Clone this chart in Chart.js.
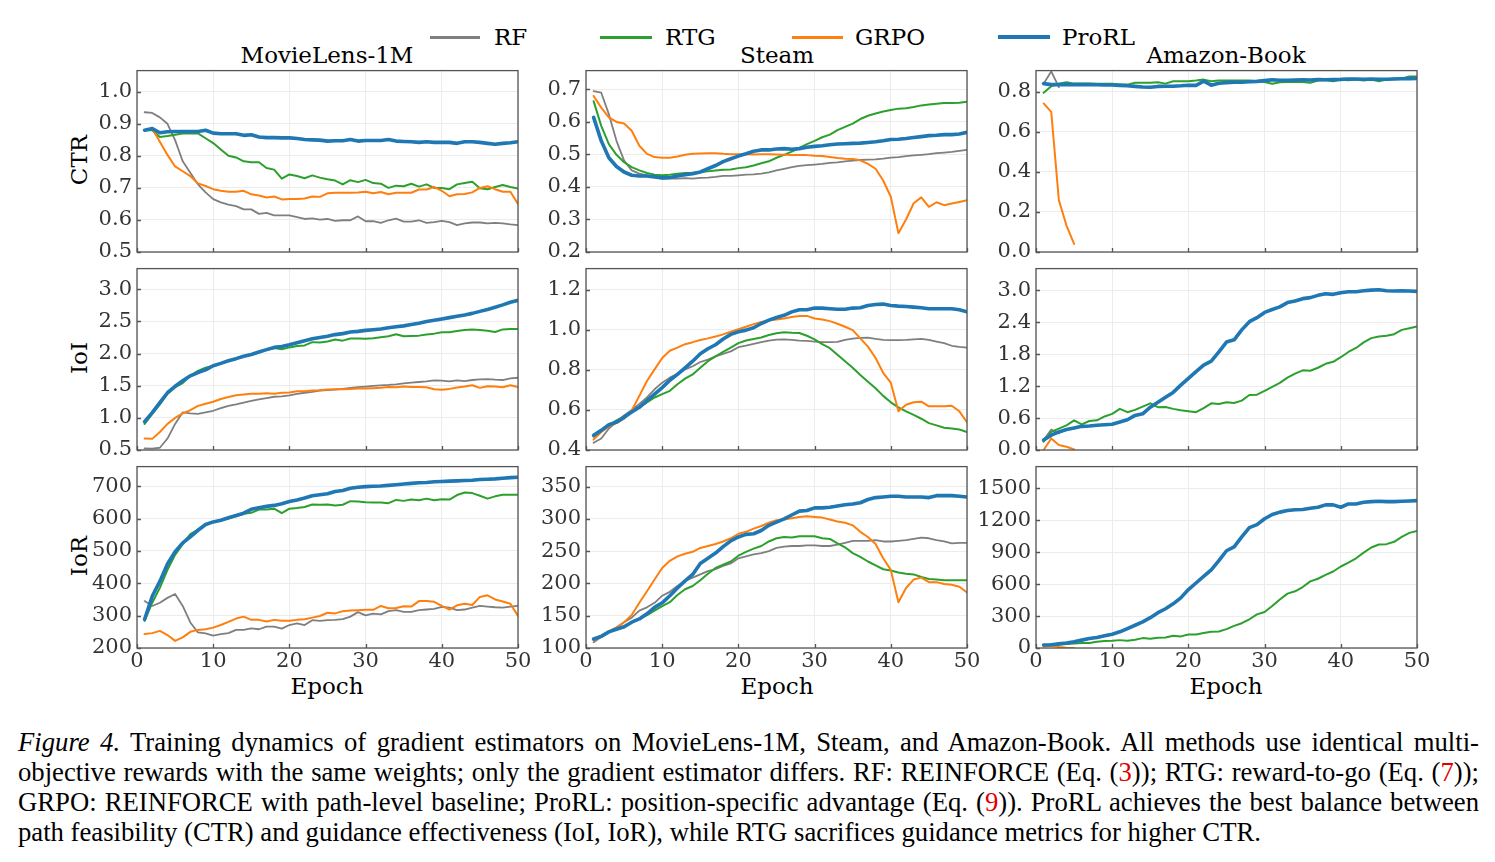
<!DOCTYPE html>
<html><head><meta charset="utf-8">
<script src="https://cdn.jsdelivr.net/npm/chart.js@4.4.1/dist/chart.umd.min.js"></script>
<style>
body{margin:0;background:#fff;}
#wrap{position:relative;width:1495px;height:862px;overflow:hidden;font-family:"DejaVu Serif",serif;background:#fff;}
canvas{position:absolute;}
.lbl{position:absolute;font-size:23px;color:#000;white-space:nowrap;line-height:1;transform:translate(-50%,-50%);}
.rot{transform:translate(-50%,-50%) rotate(-90deg);}
.lgline{position:absolute;}
.lgtext{position:absolute;font-size:23px;line-height:1;color:#000;transform:translateY(-50%);white-space:nowrap;}
.cap{position:absolute;left:18px;width:1461px;font-family:"Liberation Serif","Times New Roman",serif;font-size:26.7px;line-height:30px;color:#000;white-space:nowrap;}
.just{text-align:justify;text-align-last:justify;white-space:normal;}
.red{color:#e00000;}
</style></head>
<body><div id="wrap">
<div class="lgline" style="left:430px;top:35.5px;width:50px;height:3px;background:#7f7f7f"></div>
<div class="lgtext" style="left:494px;top:37px">RF</div>
<div class="lgline" style="left:600px;top:35.5px;width:52px;height:3px;background:#2ca02c"></div>
<div class="lgtext" style="left:665px;top:37px">RTG</div>
<div class="lgline" style="left:792px;top:35.5px;width:51px;height:3px;background:#ff7f0e"></div>
<div class="lgtext" style="left:855px;top:37px">GRPO</div>
<div class="lgline" style="left:998px;top:35px;width:52px;height:4px;background:#1f77b4"></div>
<div class="lgtext" style="left:1062px;top:37px">ProRL</div>

<div class="lbl" style="left:327px;top:55px">MovieLens-1M</div>
<div class="lbl" style="left:777px;top:55px">Steam</div>
<div class="lbl" style="left:1226px;top:55px">Amazon-Book</div>
<div class="lbl rot" style="left:79px;top:160px">CTR</div>
<div class="lbl rot" style="left:79px;top:358px">IoI</div>
<div class="lbl rot" style="left:79px;top:556px">IoR</div>
<div class="lbl" style="left:327px;top:686px">Epoch</div>
<div class="lbl" style="left:777px;top:686px">Epoch</div>
<div class="lbl" style="left:1226px;top:686px">Epoch</div>

<div class="cap just" style="top:727px"><i>Figure 4.</i> Training dynamics of gradient estimators on MovieLens-1M, Steam, and Amazon-Book. All methods use identical multi-</div>
<div class="cap just" style="top:757px">objective rewards with the same weights; only the gradient estimator differs. RF: REINFORCE (Eq. (<span class="red">3</span>)); RTG: reward-to-go (Eq. (<span class="red">7</span>));</div>
<div class="cap just" style="top:787px">GRPO: REINFORCE with path-level baseline; ProRL: position-specific advantage (Eq. (<span class="red">9</span>)). ProRL achieves the best balance between</div>
<div class="cap" style="top:817px">path feasibility (CTR) and guidance effectiveness (IoI, IoR), while RTG sacrifices guidance metrics for higher CTR.</div>
</div>
<script>
// ---------- data ----------
const epochs = [1,2,3,4,5,6,7,8,9,10,11,12,13,14,15,16,17,18,19,20,21,22,23,24,25,26,27,28,29,30,31,32,33,34,35,36,37,38,39,40,41,42,43,44,45,46,47,48,49,50];
const xTicks = [0,10,20,30,40,50];
const seriesNames = ['RF','RTG','GRPO','ProRL'];
const datasetTitles = ['MovieLens-1M','Steam','Amazon-Book'];
const metricNames = ['CTR','IoI','IoR'];

// MovieLens-1M CTR
const ml_ctr_rf = [0.936,0.934,0.920,0.900,0.849,0.783,0.747,0.711,0.686,0.665,0.655,0.648,0.643,0.633,0.633,0.619,0.622,0.614,0.614,0.614,0.609,0.603,0.605,0.601,0.603,0.597,0.599,0.599,0.611,0.596,0.596,0.591,0.599,0.604,0.595,0.595,0.599,0.591,0.593,0.597,0.593,0.584,0.589,0.592,0.592,0.589,0.591,0.589,0.586,0.584];
const ml_ctr_rtg = [0.880,0.880,0.859,0.862,0.866,0.870,0.870,0.870,0.855,0.840,0.820,0.800,0.795,0.783,0.780,0.780,0.762,0.757,0.729,0.742,0.737,0.730,0.739,0.732,0.727,0.723,0.711,0.724,0.718,0.725,0.715,0.713,0.700,0.707,0.705,0.713,0.704,0.711,0.700,0.700,0.696,0.711,0.715,0.719,0.699,0.696,0.703,0.709,0.703,0.698];
const ml_ctr_grpo = [0.880,0.885,0.844,0.803,0.767,0.752,0.737,0.714,0.706,0.696,0.691,0.688,0.688,0.691,0.680,0.676,0.670,0.673,0.664,0.665,0.665,0.667,0.673,0.672,0.683,0.685,0.685,0.685,0.686,0.688,0.683,0.687,0.680,0.685,0.685,0.685,0.695,0.695,0.703,0.691,0.674,0.680,0.681,0.686,0.700,0.705,0.696,0.688,0.688,0.650];
const ml_ctr_prorl = [0.880,0.885,0.872,0.875,0.876,0.876,0.876,0.876,0.880,0.871,0.869,0.869,0.869,0.864,0.866,0.859,0.857,0.857,0.856,0.856,0.854,0.851,0.850,0.849,0.846,0.847,0.847,0.851,0.846,0.848,0.848,0.848,0.851,0.846,0.845,0.844,0.842,0.844,0.842,0.842,0.842,0.839,0.844,0.844,0.842,0.839,0.836,0.839,0.841,0.844];

// Steam CTR
const st_ctr_rf = [0.695,0.690,0.624,0.542,0.481,0.451,0.441,0.436,0.431,0.426,0.426,0.426,0.427,0.426,0.428,0.429,0.431,0.434,0.434,0.436,0.438,0.439,0.441,0.445,0.451,0.456,0.461,0.465,0.467,0.469,0.471,0.474,0.476,0.479,0.481,0.483,0.484,0.485,0.487,0.490,0.492,0.495,0.497,0.499,0.501,0.504,0.506,0.508,0.511,0.514];
const st_ctr_rtg = [0.664,0.588,0.532,0.499,0.476,0.461,0.451,0.443,0.438,0.436,0.438,0.441,0.443,0.444,0.446,0.448,0.451,0.453,0.454,0.458,0.461,0.466,0.473,0.479,0.490,0.499,0.509,0.520,0.532,0.542,0.553,0.561,0.575,0.585,0.595,0.609,0.619,0.626,0.632,0.637,0.641,0.642,0.646,0.651,0.654,0.656,0.658,0.658,0.659,0.662];
const st_ctr_grpo = [0.680,0.644,0.614,0.600,0.595,0.573,0.527,0.502,0.492,0.490,0.490,0.494,0.499,0.502,0.503,0.504,0.504,0.502,0.501,0.501,0.501,0.500,0.501,0.501,0.500,0.499,0.498,0.498,0.498,0.496,0.495,0.492,0.489,0.487,0.486,0.482,0.471,0.456,0.420,0.370,0.258,0.300,0.350,0.368,0.339,0.353,0.344,0.349,0.354,0.359];
const st_ctr_prorl = [0.614,0.542,0.490,0.463,0.446,0.436,0.434,0.434,0.431,0.428,0.429,0.434,0.438,0.441,0.446,0.456,0.466,0.478,0.487,0.495,0.502,0.510,0.514,0.514,0.517,0.518,0.516,0.518,0.522,0.525,0.527,0.530,0.532,0.533,0.534,0.535,0.537,0.539,0.542,0.546,0.547,0.549,0.552,0.555,0.558,0.559,0.561,0.561,0.563,0.568];

// Amazon-Book CTR
const az_ctr_rf = [0.840,0.902,0.823];
const az_ctr_rtg = [0.795,0.828,0.840,0.848,0.841,0.841,0.841,0.840,0.840,0.840,0.836,0.836,0.845,0.845,0.845,0.848,0.841,0.853,0.853,0.853,0.856,0.861,0.853,0.856,0.856,0.856,0.856,0.856,0.853,0.849,0.840,0.848,0.849,0.849,0.849,0.845,0.856,0.859,0.853,0.861,0.858,0.861,0.856,0.861,0.853,0.861,0.866,0.866,0.877,0.877];
const az_ctr_grpo = [0.742,0.700,0.259,0.132,0.040];
const az_ctr_prorl = [0.841,0.836,0.836,0.837,0.836,0.836,0.836,0.835,0.834,0.834,0.832,0.830,0.827,0.824,0.823,0.827,0.828,0.828,0.830,0.833,0.832,0.853,0.833,0.843,0.846,0.848,0.848,0.850,0.852,0.856,0.860,0.858,0.858,0.859,0.860,0.859,0.861,0.860,0.861,0.862,0.864,0.864,0.863,0.864,0.863,0.863,0.864,0.865,0.866,0.867];

// MovieLens-1M IoI
const ml_ioi_rf = [0.525,0.520,0.535,0.678,0.906,1.085,1.070,1.060,1.085,1.110,1.150,1.186,1.210,1.237,1.262,1.288,1.308,1.328,1.333,1.350,1.374,1.390,1.405,1.425,1.430,1.440,1.450,1.466,1.476,1.486,1.496,1.506,1.511,1.521,1.537,1.547,1.557,1.567,1.582,1.577,1.567,1.582,1.572,1.588,1.598,1.603,1.593,1.588,1.613,1.623];
const ml_ioi_rtg = [0.906,1.060,1.210,1.374,1.476,1.540,1.653,1.730,1.780,1.810,1.847,1.887,1.920,1.958,1.984,2.024,2.060,2.085,2.065,2.095,2.116,2.126,2.177,2.172,2.187,2.217,2.200,2.233,2.233,2.228,2.238,2.253,2.268,2.300,2.268,2.273,2.278,2.294,2.309,2.330,2.330,2.350,2.365,2.375,2.365,2.355,2.334,2.375,2.380,2.380];
const ml_ioi_grpo = [0.678,0.673,0.780,0.906,0.998,1.070,1.120,1.186,1.220,1.250,1.293,1.323,1.350,1.364,1.374,1.374,1.384,1.374,1.390,1.395,1.415,1.415,1.425,1.430,1.440,1.445,1.445,1.450,1.455,1.455,1.460,1.466,1.480,1.476,1.486,1.480,1.480,1.476,1.445,1.435,1.450,1.471,1.486,1.506,1.466,1.491,1.486,1.476,1.506,1.480];
const ml_ioi_prorl = [0.942,1.080,1.237,1.390,1.490,1.577,1.653,1.704,1.745,1.810,1.847,1.887,1.920,1.958,1.984,2.024,2.060,2.095,2.110,2.136,2.167,2.200,2.228,2.248,2.268,2.294,2.309,2.334,2.344,2.360,2.370,2.380,2.400,2.416,2.430,2.450,2.470,2.497,2.517,2.538,2.558,2.580,2.600,2.624,2.655,2.685,2.720,2.756,2.797,2.827];

// Steam IoI
const st_ioi_rf = [0.436,0.457,0.507,0.539,0.572,0.600,0.630,0.662,0.703,0.736,0.761,0.780,0.802,0.818,0.839,0.851,0.867,0.880,0.892,0.913,0.921,0.930,0.938,0.946,0.951,0.952,0.949,0.946,0.944,0.941,0.938,0.938,0.939,0.949,0.956,0.959,0.961,0.954,0.949,0.948,0.948,0.949,0.952,0.954,0.949,0.941,0.933,0.920,0.915,0.911];
const st_ioi_rtg = [0.466,0.498,0.523,0.548,0.567,0.593,0.613,0.638,0.662,0.679,0.695,0.728,0.756,0.777,0.810,0.843,0.867,0.889,0.911,0.933,0.946,0.954,0.961,0.974,0.982,0.987,0.985,0.984,0.970,0.952,0.928,0.908,0.875,0.843,0.810,0.774,0.741,0.708,0.670,0.638,0.613,0.593,0.575,0.556,0.534,0.523,0.511,0.507,0.502,0.490];
const st_ioi_grpo = [0.452,0.490,0.518,0.534,0.556,0.597,0.670,0.744,0.802,0.859,0.895,0.911,0.928,0.938,0.949,0.957,0.966,0.977,0.990,1.003,1.015,1.028,1.039,1.046,1.051,1.056,1.064,1.069,1.069,1.056,1.051,1.043,1.030,1.015,0.998,0.957,0.916,0.859,0.785,0.736,0.593,0.626,0.638,0.641,0.618,0.618,0.618,0.621,0.593,0.539];
const st_ioi_prorl = [0.474,0.498,0.526,0.539,0.564,0.589,0.613,0.646,0.679,0.711,0.748,0.777,0.810,0.843,0.880,0.905,0.925,0.954,0.977,0.990,0.998,1.010,1.031,1.048,1.061,1.072,1.089,1.100,1.100,1.108,1.108,1.105,1.102,1.102,1.108,1.110,1.121,1.126,1.128,1.121,1.118,1.116,1.113,1.110,1.105,1.105,1.105,1.105,1.100,1.089];

// Amazon-Book IoI
const az_ioi_rf = [0.186,0.384,0.310];
const az_ioi_rtg = [0.155,0.340,0.402,0.464,0.557,0.483,0.545,0.557,0.631,0.680,0.773,0.711,0.755,0.816,0.878,0.804,0.810,0.773,0.748,0.730,0.711,0.786,0.878,0.866,0.897,0.885,0.928,1.033,1.039,1.113,1.188,1.262,1.361,1.435,1.497,1.490,1.546,1.621,1.658,1.744,1.843,1.918,2.023,2.103,2.134,2.146,2.177,2.258,2.289,2.320];
const az_ioi_grpo = [0.000,0.216,0.093,0.062,0.012];
const az_ioi_prorl = [0.186,0.278,0.340,0.384,0.415,0.445,0.452,0.464,0.476,0.483,0.526,0.569,0.650,0.680,0.804,0.897,0.990,1.083,1.219,1.348,1.472,1.596,1.670,1.843,2.029,2.072,2.258,2.412,2.487,2.586,2.641,2.691,2.771,2.802,2.845,2.864,2.907,2.938,2.926,2.957,2.975,2.975,2.994,3.006,3.012,2.994,2.988,2.994,2.988,2.981];

// MovieLens-1M IoR
const ml_ior_rf = [345,330,340,355,367,330,279,248,245,238,243,246,256,256,261,258,266,266,260,271,276,271,286,284,286,287,289,297,311,301,306,304,314,317,312,312,317,319,321,327,325,317,319,325,330,328,326,325,328,330];
const ml_ior_rtg = [284,340,386,442,488,521,552,566,582,590,595,600,607,615,618,628,628,631,617,631,633,636,644,643,644,641,643,654,653,651,650,650,648,658,655,659,657,662,657,660,659,673,681,679,671,662,669,674,674,674];
const ml_ior_grpo = [243,246,253,240,222,233,250,256,258,263,271,281,291,297,287,287,282,287,284,284,287,289,294,299,309,307,314,316,317,318,318,330,323,324,329,328,345,345,343,330,319,332,337,333,358,363,350,344,337,299];
const ml_ior_prorl = [289,360,406,460,498,525,544,564,582,590,595,603,610,617,629,634,638,641,646,653,658,664,671,674,677,684,687,694,697,699,700,701,703,705,707,709,711,712,714,715,716,717,718,719,721,722,723,725,727,728];

// Steam IoR
const st_ior_rf = [109,117,126,132,140,147,158,163,170,181,187,196,204,209,214,219,222,227,231,239,242,245,247,250,255,257,258,258,259,259,258,258,260,263,266,266,266,267,265,265,266,267,269,271,270,267,265,262,263,263];
const st_ior_rtg = [114,119,125,129,132,140,145,151,158,165,171,182,191,196,205,215,224,229,234,243,249,254,258,265,270,272,271,273,273,273,270,269,262,256,247,241,234,228,222,220,217,215,214,210,207,206,205,205,205,205];
const st_ior_grpo = [112,117,125,131,140,151,170,188,206,224,235,242,246,249,255,258,261,265,270,277,280,285,289,294,298,299,301,303,304,303,302,299,296,294,290,280,272,261,239,221,171,193,206,209,202,202,199,198,195,186];
const st_ior_prorl = [114,118,125,129,133,140,145,153,163,170,181,193,204,214,231,239,247,257,266,272,276,277,282,290,295,300,306,312,313,317,317,318,320,322,323,325,330,333,334,335,335,334,334,334,333,336,336,336,335,334];

// Amazon-Book IoR
const az_ior_rf = [22,37,22];
const az_ior_rtg = [22,28,31,37,43,47,47,59,65,68,74,68,78,93,87,96,99,115,109,127,127,140,152,155,177,208,233,270,316,338,394,456,511,533,573,626,651,688,719,766,803,843,896,945,973,976,998,1044,1082,1100];
const az_ior_grpo = [15,22,9,3,0];
const az_ior_prorl = [28,31,40,47,59,74,90,99,115,130,152,183,214,245,285,332,369,415,471,549,611,673,735,821,914,951,1044,1131,1159,1215,1255,1277,1292,1299,1302,1314,1323,1345,1345,1323,1354,1354,1370,1376,1379,1376,1376,1379,1382,1385];

// tick labels per panel
const ml_ctr_ticks = [0.5,0.6,0.7,0.8,0.9,1.0];
const st_ctr_ticks = [0.2,0.3,0.4,0.5,0.6,0.7];
const az_ctr_ticks = [0.0,0.2,0.4,0.6,0.8];
const ml_ioi_ticks = [0.5,1.0,1.5,2.0,2.5,3.0];
const st_ioi_ticks = [0.4,0.6,0.8,1.0,1.2];
const az_ioi_ticks = [0.0,0.6,1.2,1.8,2.4,3.0];
const ml_ior_ticks = [200,300,400,500,600,700];
const st_ior_ticks = [100,150,200,250,300,350];
const az_ior_ticks = [0,300,600,900,1200,1500];

// ---------- layout / style ----------
const colLeft = [137, 586, 1036];
const rowTop = [68, 266, 464];
const PW = 381, PH = 184;
const YW = 75, XH = 40, PT = 15, PR = 25;
const styles = {
  RF:    {color:'#7f7f7f', width:1.8, order:3},
  RTG:   {color:'#2ca02c', width:2.0, order:2},
  GRPO:  {color:'#ff7f0e', width:2.0, order:1},
  ProRL: {color:'#1f77b4', width:3.6, order:0}
};
Chart.defaults.font.family = '"DejaVu Serif", serif';

const framePlugin = {
  id:'frame',
  afterDraw(chart){
    const {ctx, chartArea:a, scales} = chart;
    ctx.save();
    ctx.strokeStyle = '#555';
    ctx.lineWidth = 1.3;
    ctx.beginPath();
    scales.x.ticks.forEach(t=>{ const px = Math.round(scales.x.getPixelForValue(t.value))+0.5; ctx.moveTo(px,a.bottom); ctx.lineTo(px,a.bottom-4); });
    scales.y.ticks.forEach(t=>{ const py = Math.round(scales.y.getPixelForValue(t.value))+0.5; ctx.moveTo(a.left,py); ctx.lineTo(a.left+4,py); });
    ctx.stroke();
    ctx.strokeRect(a.left, a.top, a.right-a.left, a.bottom-a.top);
    ctx.restore();
  }
};

function makePanel(col, row, arrays, ticks, yMin, yMax, dec){
  const cv = document.createElement('canvas');
  const W = YW + PW + PR, H = PT + PH + XH;
  cv.width = W; cv.height = H;
  cv.style.left = (colLeft[col]-YW)+'px';
  cv.style.top = (rowTop[row]-PT)+'px';
  cv.style.width = W+'px'; cv.style.height = H+'px';
  document.getElementById('wrap').appendChild(cv);
  const datasets = seriesNames.map((n,i)=>({
    label:n,
    data: arrays[i].map((v,j)=>({x:epochs[j], y:v})),
    borderColor: styles[n].color,
    borderWidth: styles[n].width,
    order: styles[n].order,
    pointRadius:0, tension:0, fill:false,
    borderCapStyle:'round', borderJoinStyle:'round'
  }));
  new Chart(cv, {
    type:'line',
    data:{datasets},
    options:{
      responsive:false, animation:false, devicePixelRatio:1,
      layout:{padding:{top:PT,right:PR,left:0,bottom:0}},
      plugins:{legend:{display:false}, tooltip:{enabled:false}},
      scales:{
        x:{type:'linear', min:0, max:50,
           afterFit:s=>{s.height=XH;},
           afterBuildTicks:s=>{s.ticks = xTicks.map(v=>({value:v}));},
           grid:{color:'#ececec', lineWidth:1, drawTicks:false},
           border:{display:false},
           ticks:{display: row===2, padding:1, color:'#333', font:{size:21}, maxRotation:0, autoSkip:false}},
        y:{type:'linear', min:yMin, max:yMax,
           afterFit:s=>{s.width=YW;},
           afterBuildTicks:s=>{s.ticks = ticks.map(v=>({value:v}));},
           grid:{color:'#ececec', lineWidth:1, drawTicks:false},
           border:{display:false},
           ticks:{padding:5, color:'#333', font:{size:21}, autoSkip:false, callback:v=>Number(v).toFixed(dec)}}
      }
    },
    plugins:[framePlugin]
  });
}

makePanel(0,0,[ml_ctr_rf,ml_ctr_rtg,ml_ctr_grpo,ml_ctr_prorl], ml_ctr_ticks, 0.5, 1.066, 1);
makePanel(1,0,[st_ctr_rf,st_ctr_rtg,st_ctr_grpo,st_ctr_prorl], st_ctr_ticks, 0.2, 0.758, 1);
makePanel(2,0,[az_ctr_rf,az_ctr_rtg,az_ctr_grpo,az_ctr_prorl], az_ctr_ticks, 0.0, 0.906, 1);
makePanel(0,1,[ml_ioi_rf,ml_ioi_rtg,ml_ioi_grpo,ml_ioi_prorl], ml_ioi_ticks, 0.5, 3.32, 1);
makePanel(1,1,[st_ioi_rf,st_ioi_rtg,st_ioi_grpo,st_ioi_prorl], st_ioi_ticks, 0.4, 1.305, 1);
makePanel(2,1,[az_ioi_rf,az_ioi_rtg,az_ioi_grpo,az_ioi_prorl], az_ioi_ticks, 0.0, 3.41, 1);
makePanel(0,2,[ml_ior_rf,ml_ior_rtg,ml_ior_grpo,ml_ior_prorl], ml_ior_ticks, 200, 761, 0);
makePanel(1,2,[st_ior_rf,st_ior_rtg,st_ior_grpo,st_ior_prorl], st_ior_ticks, 100, 381, 0);
makePanel(2,2,[az_ior_rf,az_ior_rtg,az_ior_grpo,az_ior_prorl], az_ior_ticks, 0, 1705, 0);
</script>
</body></html>
